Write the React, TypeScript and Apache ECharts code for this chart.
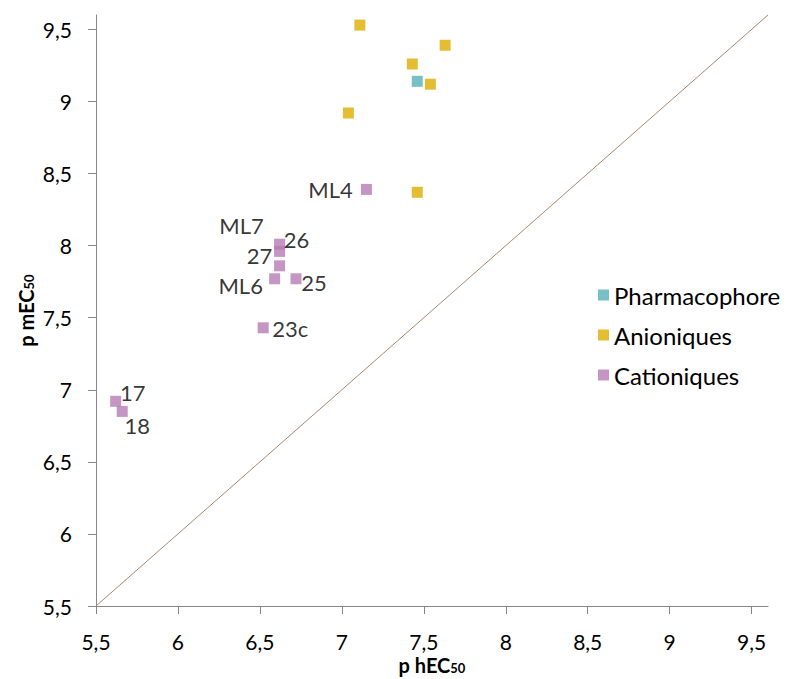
import React, { useEffect, useRef } from "react";
import * as echarts from "echarts";

// ---- data ----
const pharmaNames = ["Pharmacophore"];
const pharmaX = [7.46];
const pharmaY = [9.14];

const anionX = [7.11, 7.63, 7.43, 7.54, 7.04, 7.46];
const anionY = [9.53, 9.39, 9.26, 9.12, 8.92, 8.37];

const cationNames = ["ML4", "ML7", "26", "27", "ML6", "25", "23c", "17", "18"];
const cationX = [7.15, 6.62, 6.62, 6.62, 6.59, 6.72, 6.52, 5.62, 5.66];
const cationY = [8.39, 8.01, 7.96, 7.86, 7.77, 7.77, 7.43, 6.92, 6.85];

const tickValues = [5.5, 6, 6.5, 7, 7.5, 8, 8.5, 9, 9.5];
const axisMin = 5.5;
const axisMax = 9.6;
const diagonal = [
  [5.5, 5.5],
  [9.6, 9.6],
];

// label offsets (pixels, text centre relative to point centre)
const labelOffsets: Record<string, [number, number]> = {
  ML4: [-36, 0],
  ML7: [-38, -19],
  "26": [17, -12],
  "27": [-20, -10],
  ML6: [-34, 7],
  "25": [18, 4],
  "23c": [27, 1],
  "17": [17, -9],
  "18": [15, 14],
};

const COLORS = {
  pharma: "#56B0BA",
  anion: "#DFAD00",
  cation: "#B77CB5",
  diag: "#A8896C",
  axis: "#878787",
};

const FONT = "Lato, 'Open Sans', sans-serif";

const fmt = (v: number) => String(v).replace(".", ",");

export default function App() {
  const ref = useRef<HTMLDivElement>(null);

  useEffect(() => {
    if (!ref.current) return;
    const chart = echarts.init(ref.current, undefined, { renderer: "svg" });

    const axisCommon = {
      type: "value" as const,
      min: axisMin,
      max: axisMax,
      splitLine: { show: false },
      axisLine: { show: true, lineStyle: { color: COLORS.axis, width: 1 } },
      axisTick: {
        show: true,
        inside: false,
        length: 8,
        lineStyle: { color: COLORS.axis },
        customValues: tickValues,
      },
      axisLabel: {
        customValues: tickValues,
        formatter: (v: number) => fmt(v),
        color: "#000",
        fontSize: 21,
        lineHeight: 22,
        fontFamily: FONT,
        margin: 24,
      },
      nameLocation: "middle" as const,
      nameMoveOverlap: false,
    };

    const nameRich = {
      b: { fontSize: 20, fontWeight: "bold" as const, fontFamily: FONT, color: "#000" },
      s: {
        fontSize: 13,
        fontWeight: "bold" as const,
        fontFamily: FONT,
        color: "#000",
        padding: [6, 0, 0, 0],
      },
    };

    chart.setOption({
      animation: false,
      backgroundColor: "#fff",
      textStyle: { fontFamily: FONT },
      grid: {
        left: 96,
        right: 22,
        top: 15,
        bottom: 73,
        containLabel: false,
        outerBoundsMode: "none",
      },
      xAxis: {
        ...axisCommon,
        axisLabel: { ...axisCommon.axisLabel, margin: 24 },
        name: "{b|p hEC}{s|50}",
        nameGap: 49,
        nameTextStyle: { rich: nameRich },
      },
      yAxis: {
        ...axisCommon,
        name: "{b|p mEC}{s|50}",
        nameGap: 60,
        nameRotate: 90,
        nameTextStyle: { rich: nameRich },
      },
      legend: {
        orient: "vertical",
        left: 598,
        top: 281,
        padding: 0,
        itemWidth: 11,
        itemHeight: 11,
        itemGap: 12,
        icon: "rect",
        data: ["Pharmacophore", "Anioniques", "Cationiques"],
        textStyle: { fontSize: 24, fontFamily: FONT, color: "#000", lineHeight: 28 },
      },
      series: [
        {
          type: "line",
          name: "diag",
          data: diagonal,
          showSymbol: false,
          silent: true,
          lineStyle: { color: COLORS.diag, width: 1 },
          z: 1,
        },
        {
          type: "scatter",
          name: "Pharmacophore",
          symbol: "rect",
          symbolSize: 11,
          itemStyle: { color: COLORS.pharma },
          data: pharmaX.map((x, i) => ({ name: pharmaNames[i], value: [x, pharmaY[i]] })),
          z: 3,
        },
        {
          type: "scatter",
          name: "Anioniques",
          symbol: "rect",
          symbolSize: 11,
          itemStyle: { color: COLORS.anion },
          data: anionX.map((x, i) => [x, anionY[i]]),
          z: 3,
        },
        {
          type: "scatter",
          name: "Cationiques",
          symbol: "rect",
          symbolSize: 11,
          itemStyle: { color: COLORS.cation },
          data: cationX.map((x, i) => ({
            name: cationNames[i],
            value: [x, cationY[i]],
          })),
          label: {
            show: true,
            position: "inside",
            formatter: (p: any) => p.name,
            color: "#000",
            fontSize: 22,
            fontFamily: FONT,
            textBorderWidth: 0,
            align: "center",
            verticalAlign: "middle",
          },
          labelLayout: (params: any) => {
            const name = cationNames[params.dataIndex];
            const off = labelOffsets[name] || [0, 0];
            return { dx: off[0], dy: off[1], hideOverlap: false };
          },
          z: 3,
        },
      ],
    });

    return () => chart.dispose();
  }, []);

  return <div ref={ref} style={{ width: 790, height: 679, position: "absolute", left: 0, top: 0 }} />;
}
